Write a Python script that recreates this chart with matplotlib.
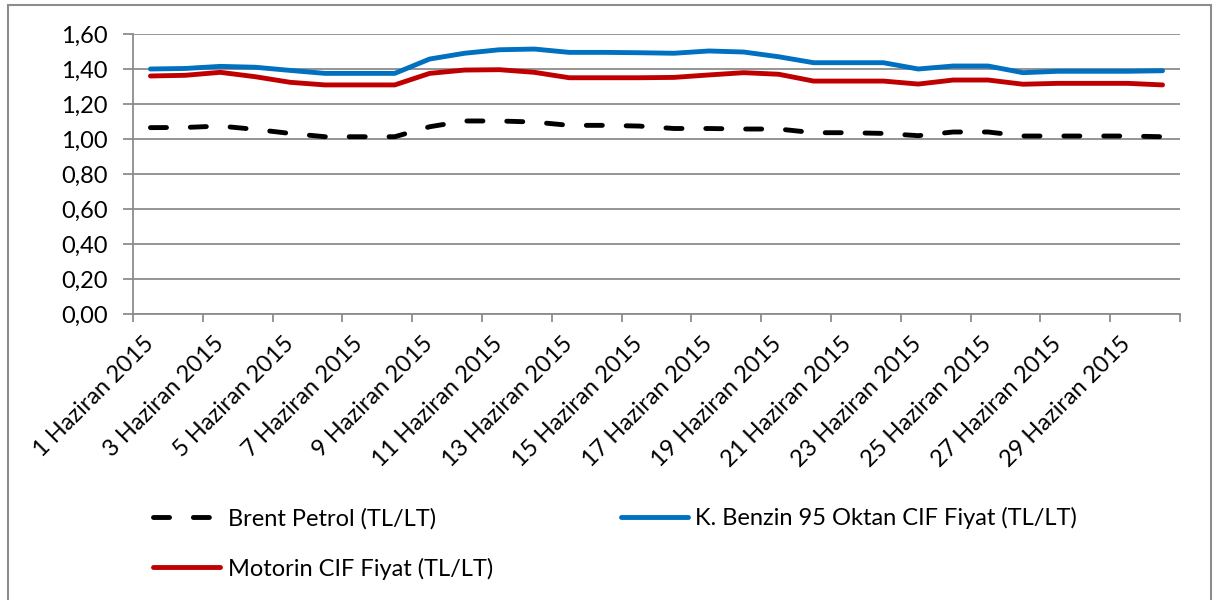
import matplotlib
matplotlib.use("Agg")
import matplotlib.pyplot as plt
from matplotlib.patches import Rectangle
from matplotlib.ticker import FixedLocator, FuncFormatter

plt.rcParams['font.family'] = ['Lato', 'DejaVu Sans']

days = list(range(1, 31))
tick_labels = [f"{d} Haziran 2015" for d in range(1, 31, 2)]

brent = [1.065, 1.066, 1.074, 1.055, 1.032, 1.013, 1.013, 1.013, 1.070, 1.103,
         1.103, 1.097, 1.078, 1.078, 1.074, 1.060, 1.060, 1.057, 1.057, 1.036,
         1.036, 1.032, 1.019, 1.040, 1.040, 1.017, 1.017, 1.017, 1.017, 1.013]
benzin = [1.400, 1.403, 1.415, 1.410, 1.392, 1.375, 1.375, 1.375, 1.457, 1.490,
          1.510, 1.514, 1.495, 1.495, 1.493, 1.490, 1.503, 1.497, 1.470, 1.436,
          1.436, 1.436, 1.400, 1.417, 1.417, 1.379, 1.387, 1.387, 1.387, 1.390]
motorin = [1.360, 1.364, 1.381, 1.356, 1.324, 1.309, 1.309, 1.309, 1.375, 1.394,
           1.396, 1.381, 1.350, 1.350, 1.350, 1.352, 1.366, 1.379, 1.370, 1.331,
           1.331, 1.331, 1.314, 1.337, 1.337, 1.313, 1.318, 1.318, 1.318, 1.309]

names = ["Brent Petrol (TL/LT)", "K. Benzin 95 Oktan CIF Fiyat (TL/LT)",
         "Motorin CIF Fiyat (TL/LT)"]

FS = 17
W, H = 1214, 600
fig = plt.figure(figsize=(W / 100, H / 100), dpi=100)
fig.patches.append(Rectangle((8 / W, -0.01), (1211 - 8) / W, 1.01 - 5 / H,
                             transform=fig.transFigure, fill=False,
                             edgecolor='#8c8c8c', linewidth=1.5))

ax = fig.add_axes([133 / W, 1 - 314 / H, (1180 - 133) / W, (314 - 34) / H])

grid_c = '#8c8c8c'
LW = 3.5
l1, = ax.plot(days, brent, color='black', linewidth=LW, dashes=(3.3, 4.9),
              dash_capstyle='round', solid_capstyle='round')
l2, = ax.plot(days, benzin, color='#0070C0', linewidth=LW,
              solid_capstyle='round')
l3, = ax.plot(days, motorin, color='#C00000', linewidth=LW,
              solid_capstyle='round')

ax.set_xlim(0.5, 30.5)
ax.set_ylim(0, 1.6)
yt = [i * 0.2 for i in range(9)]
ax.set_yticks(yt)
ax.yaxis.set_major_formatter(FuncFormatter(lambda v, p: f"{v:.2f}".replace('.', ',')))
ax.grid(axis='y', color=grid_c, linewidth=1.3)
ax.set_axisbelow(True)

ax.xaxis.set_major_locator(FixedLocator([0.5 + 2 * i for i in range(16)]))
ax.xaxis.set_minor_locator(FixedLocator(list(range(1, 31, 2))))
ax.xaxis.set_major_formatter(plt.NullFormatter())
ax.set_xticklabels(tick_labels, minor=True)
ax.tick_params(axis='x', which='major', length=6, width=1.3, color=grid_c)
ax.tick_params(axis='x', which='minor', length=0, pad=19, labelsize=FS)
for lab in ax.get_xticklabels(minor=True):
    lab.set_rotation(45)
    lab.set_ha('right')
    lab.set_va('center')
    lab.set_rotation_mode('anchor')
ax.tick_params(axis='y', length=7, width=1.3, color=grid_c, pad=11, labelsize=FS)

for s in ['top', 'right']:
    ax.spines[s].set_visible(False)
for s in ['left', 'bottom']:
    ax.spines[s].set_color(grid_c)
    ax.spines[s].set_linewidth(1.3)

leg = fig.legend([l1, l3, l2], [names[0], names[2], names[1]], ncol=2,
                 loc='upper left', bbox_to_anchor=(153 / W, 1 - 507 / H),
                 frameon=False, borderpad=0, borderaxespad=0,
                 fontsize=FS, handlelength=2.85, handletextpad=0.32,
                 columnspacing=5.4, labelspacing=1.2)

fig.savefig("out.png", dpi=100)
